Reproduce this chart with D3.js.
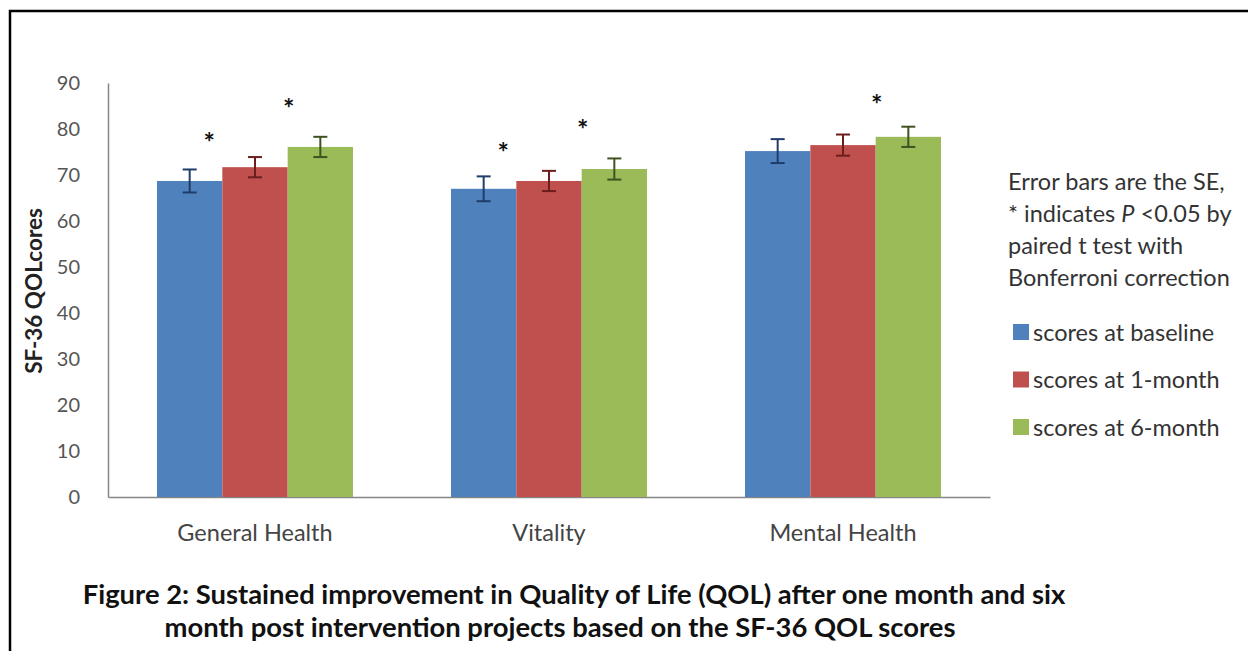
<!DOCTYPE html>
<html>
<head>
<meta charset="utf-8">
<script src="https://cdn.jsdelivr.net/npm/d3@7"></script>
<style>
  body { margin: 0; background: #fff; }
  svg { display: block; font-family: Lato, "Open Sans", sans-serif; }
</style>
</head>
<body>
<svg id="chart" width="1248" height="651"></svg>
<script>
// data
const categories = ["General Health", "Vitality", "Mental Health"];
const seriesNames = ["scores at baseline", "scores at 1-month", "scores at 6-month"];
const baseline = [68.7, 67.0, 75.2];
const oneMonth = [71.7, 68.7, 76.5];
const sixMonth = [76.1, 71.3, 78.3];
const baselineSE = [2.5, 2.7, 2.6];
const oneMonthSE = [2.2, 2.2, 2.3];
const sixMonthSE = [2.2, 2.3, 2.2];
const yTicks = [0, 10, 20, 30, 40, 50, 60, 70, 80, 90];
// significance marks: category, series index they sit by, height
const starCats = ["General Health", "General Health", "Vitality", "Vitality", "Mental Health"];
const starSeries = [1, 2, 1, 2, 2];
const starValues = [78.3, 85.7, 76.1, 81.1, 86.5];

const colors = ["#4F81BD", "#C0504D", "#9BBB59"];
const errColors = ["#1F3D6B", "#6B1E1C", "#3F5220"];

const values = [baseline, oneMonth, sixMonth];
const errors = [baselineSE, oneMonthSE, sixMonthSE];

const svg = d3.select("#chart");

// frame
svg.append("path")
    .attr("d", "M10,651 L10,11 L1248,11")
    .attr("fill", "none")
    .attr("stroke", "#000")
    .attr("stroke-width", 2.5);

const plot = { left: 108, right: 990, top: 83, bottom: 497 };

const x = d3.scaleBand()
    .domain(categories)
    .range([plot.left, plot.right])
    .paddingInner(1 / 3)
    .paddingOuter(1 / 6);

const xs = d3.scaleBand()
    .domain(d3.range(seriesNames.length))
    .range([0, x.bandwidth()]);

const y = d3.scaleLinear()
    .domain([0, 90])
    .range([plot.bottom, plot.top]);

// axes
const yAxis = d3.axisLeft(y).tickValues(yTicks).tickSize(0).tickPadding(28);
const gy = svg.append("g")
    .attr("transform", `translate(${plot.left},0)`)
    .call(yAxis);
gy.select(".domain").attr("stroke", "#868686").attr("stroke-width", 1.5);
gy.selectAll("text")
    .attr("font-family", "Lato, sans-serif")
    .attr("font-size", 20)
    .attr("fill", "#555");

const xAxis = d3.axisBottom(x).tickSize(0).tickPadding(27);
const gx = svg.append("g")
    .attr("transform", `translate(0,${plot.bottom})`)
    .call(xAxis);
gx.select(".domain").attr("stroke", "#868686").attr("stroke-width", 1.5);
gx.selectAll("text")
    .attr("font-family", "Lato, sans-serif")
    .attr("font-size", 23.5)
    .attr("fill", "#444");

// y title
svg.append("text")
    .attr("transform", `translate(42,291) rotate(-90)`)
    .attr("text-anchor", "middle")
    .attr("font-weight", "bold")
    .attr("font-size", 22.5)
    .attr("fill", "#222")
    .text("SF-36 QOLcores");

// bars
const rows = [];
categories.forEach((c, ci) => {
    values.forEach((vals, si) => {
        rows.push({ cat: c, s: si, v: vals[ci], se: errors[si][ci] });
    });
});

svg.append("g")
    .selectAll("rect")
    .data(rows)
    .join("rect")
    .attr("x", d => x(d.cat) + xs(d.s))
    .attr("y", d => y(d.v))
    .attr("width", xs.bandwidth())
    .attr("height", d => y(0) - y(d.v))
    .attr("fill", d => colors[d.s]);

// error bars
const capW = 7;
const cx = d => x(d.cat) + xs(d.s) + xs.bandwidth() / 2;
const eb = svg.append("g")
    .selectAll("g")
    .data(rows)
    .join("g")
    .attr("stroke", d => errColors[d.s])
    .attr("stroke-width", 2);
eb.append("line")
    .attr("x1", cx)
    .attr("x2", cx)
    .attr("y1", d => y(d.v + d.se))
    .attr("y2", d => y(d.v - d.se));
eb.append("line")
    .attr("x1", d => cx(d) - capW)
    .attr("x2", d => cx(d) + capW)
    .attr("y1", d => y(d.v + d.se))
    .attr("y2", d => y(d.v + d.se));
eb.append("line")
    .attr("x1", d => cx(d) - capW)
    .attr("x2", d => cx(d) + capW)
    .attr("y1", d => y(d.v - d.se))
    .attr("y2", d => y(d.v - d.se));

// stars
const starShift = { 1: -13, 2: 1 };
svg.append("g")
    .selectAll("text")
    .data(starValues)
    .join("text")
    .attr("x", (v, i) => x(starCats[i]) + xs(starSeries[i]) + starShift[starSeries[i]])
    .attr("y", v => y(v) + 15)
    .attr("text-anchor", "middle")
    .attr("font-size", 27)
    .attr("font-weight", "bold")
    .attr("fill", "#111")
    .text("*");

// note
const noteLines = ["Error bars are the SE,", null, "paired t test with", "Bonferroni correction"];
const note = svg.append("g").attr("font-size", 23.5).attr("fill", "#333");
noteLines.forEach((t, i) => {
    const tx = note.append("text")
        .attr("x", 1008)
        .attr("y", 182 + i * 32 + 8);
    if (t) tx.text(t);
    else {
        tx.append("tspan").text("* indicates ");
        tx.append("tspan").attr("font-style", "italic").text("P");
        tx.append("tspan").text(" <0.05 by");
    }
});

// legend
const legend = svg.append("g")
    .selectAll("g")
    .data(seriesNames)
    .join("g")
    .attr("transform", (d, i) => `translate(1013,${332 + i * 47.5})`);
legend.append("rect")
    .attr("x", 0).attr("y", -8)
    .attr("width", 16).attr("height", 16)
    .attr("fill", (d, i) => colors[i]);
legend.append("text")
    .attr("x", 20)
    .attr("y", 8.5)
    .attr("font-size", 23.5)
    .attr("fill", "#333")
    .text(d => d);

// caption
const caption = [
    "Figure 2: Sustained improvement in Quality of Life (QOL) after one month and six",
    "month post intervention projects based on the SF-36 QOL scores"
];
svg.append("g")
    .selectAll("text")
    .data(caption)
    .join("text")
    .attr("x", (d, i) => i === 0 ? 574 : 560)
    .attr("y", (d, i) => 604 + i * 33)
    .attr("text-anchor", "middle")
    .attr("font-weight", "bold")
    .attr("font-size", 27.4)
    .attr("fill", "#111")
    .text(d => d);
</script>
</body>
</html>
